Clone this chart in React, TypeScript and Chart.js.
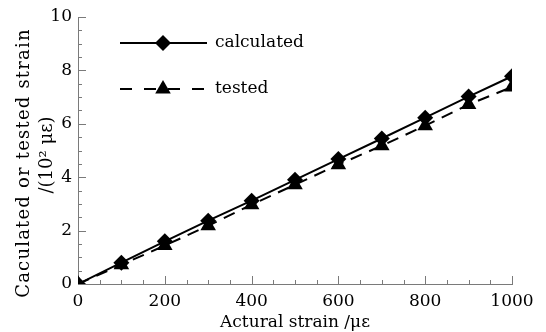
import React, { useEffect, useRef } from 'react';
import { Chart, registerables } from 'chart.js';

Chart.register(...registerables);

const strain = [0, 100, 200, 300, 400, 500, 600, 700, 800, 900, 1000];
const calculated = [0, 0.8, 1.6, 2.37, 3.12, 3.9, 4.68, 5.45, 6.23, 7.02, 7.78];
const tested = [0, 0.72, 1.44, 2.18, 2.97, 3.72, 4.47, 5.18, 5.93, 6.72, 7.38];
const legendLabels = ['calculated', 'tested'];
const xTitle = 'Actural strain /\u03bc\u03b5';
const yTitleLines = ['Caculated or tested strain', '/(10\u00b2 \u03bc\u03b5)'];

const FONT = "'DejaVu Serif', 'Liberation Serif', serif";
const FS = 17;
const AXIS = '#7a7a7a';
const INK = '#000000';

const tickPlugin = {
  id: 'inwardTicks',
  beforeDatasetsDraw(chart: any) {
    const { ctx, scales } = chart;
    const x = scales.x;
    const y = scales.y;
    ctx.save();
    ctx.strokeStyle = AXIS;
    ctx.lineWidth = 1;
    for (let v = 0; v <= 1000; v += 50) {
      const px = Math.round(x.getPixelForValue(v)) + 0.5;
      const len = v % 200 === 0 ? 8 : 4;
      ctx.beginPath();
      ctx.moveTo(px, y.bottom);
      ctx.lineTo(px, y.bottom - len);
      ctx.stroke();
    }
    for (let i = 0; i <= 20; i++) {
      const v = i * 0.5;
      const py = Math.round(y.getPixelForValue(v)) + 0.5;
      const len = i % 4 === 0 ? 8 : 4;
      ctx.beginPath();
      ctx.moveTo(x.left, py);
      ctx.lineTo(x.left + len, py);
      ctx.stroke();
    }
    ctx.restore();
  },
};

const titlePlugin = {
  id: 'yTitle',
  afterDraw(chart: any) {
    const { ctx } = chart;
    ctx.save();
    ctx.fillStyle = INK;
    ctx.font = `18px ${FONT}`;
    ctx.textAlign = 'center';
    ctx.textBaseline = 'middle';
    const pos = [
      [24, 163],
      [47, 155],
    ];
    const spacing = ['1.2px', '0px'];
    yTitleLines.forEach((t, i) => {
      ctx.save();
      (ctx as any).letterSpacing = spacing[i];
      ctx.translate(pos[i][0], pos[i][1]);
      ctx.rotate(-Math.PI / 2);
      ctx.fillText(t, 0, 0);
      ctx.restore();
    });
    ctx.restore();
  },
};

function diamond(ctx: CanvasRenderingContext2D, cx: number, cy: number, r: number) {
  ctx.beginPath();
  ctx.moveTo(cx, cy - r);
  ctx.lineTo(cx + r, cy);
  ctx.lineTo(cx, cy + r);
  ctx.lineTo(cx - r, cy);
  ctx.closePath();
  ctx.fill();
}

function triangle(ctx: CanvasRenderingContext2D, cx: number, cy: number, r: number) {
  ctx.beginPath();
  ctx.moveTo(cx, cy - r);
  ctx.lineTo(cx + r * 0.866, cy + r / 2);
  ctx.lineTo(cx - r * 0.866, cy + r / 2);
  ctx.closePath();
  ctx.fill();
}

const legendPlugin = {
  id: 'customLegend',
  afterDraw(chart: any) {
    const { ctx } = chart;
    ctx.save();
    ctx.strokeStyle = INK;
    ctx.fillStyle = INK;
    ctx.lineWidth = 2;
    const rows = [43, 89];
    rows.forEach((yy, i) => {
      ctx.setLineDash(i === 0 ? [] : [12, 12]);
      ctx.beginPath();
      ctx.moveTo(120, yy);
      ctx.lineTo(207, yy);
      ctx.stroke();
      ctx.setLineDash([]);
      if (i === 0) diamond(ctx, 163, yy, 8);
      else triangle(ctx, 163, yy, 9);
      ctx.font = `${FS}px ${FONT}`;
      ctx.textAlign = 'left';
      ctx.textBaseline = 'middle';
      ctx.fillText(legendLabels[i], 215, yy);
    });
    ctx.restore();
  },
};

export default function App() {
  const ref = useRef<HTMLCanvasElement | null>(null);

  useEffect(() => {
    if (!ref.current) return;
    const chart = new Chart(ref.current, {
      type: 'line',
      data: {
        labels: strain,
        datasets: [
          {
            label: legendLabels[0],
            data: strain.map((s, i) => ({ x: s, y: calculated[i] })),
            borderColor: INK,
            backgroundColor: INK,
            borderWidth: 2,
            pointStyle: 'rectRot',
            pointRadius: 8,
            pointBorderWidth: 0,
            tension: 0,
          },
          {
            label: legendLabels[1],
            data: strain.map((s, i) => ({ x: s, y: tested[i] })),
            borderColor: INK,
            backgroundColor: INK,
            borderWidth: 2,
            borderDash: [12, 8],
            pointStyle: 'triangle',
            pointRadius: 9,
            pointBorderWidth: 0,
            tension: 0,
          },
        ],
      },
      options: {
        responsive: false,
        animation: false,
        devicePixelRatio: 1,
        layout: { padding: { left: 0, right: 34, top: 17, bottom: 0 } },
        plugins: {
          legend: { display: false },
          tooltip: { enabled: false },
        },
        scales: {
          x: {
            type: 'linear',
            min: 0,
            max: 1000,
            grid: { display: false, drawTicks: false },
            border: { display: true, color: AXIS, width: 1 },
            ticks: {
              stepSize: 200,
              color: INK,
              padding: 7,
              font: { family: FONT, size: FS },
              maxRotation: 0,
              callback: (v: any) => String(v),
            },
            title: {
              display: true,
              text: xTitle,
              color: INK,
              font: { family: FONT, size: FS, lineHeight: 1 },
              padding: { top: 0, bottom: 1 },
            },
            afterFit(scale: any) {
              scale.height = 48;
            },
          },
          y: {
            type: 'linear',
            min: 0,
            max: 10,
            grid: { display: false, drawTicks: false },
            border: { display: true, color: AXIS, width: 1 },
            ticks: {
              stepSize: 2,
              color: INK,
              padding: 6,
              font: { family: FONT, size: FS },
              callback: (v: any) => String(v),
            },
            afterFit(scale: any) {
              scale.width = 78;
            },
          },
        },
      },
      plugins: [tickPlugin, titlePlugin, legendPlugin],
    } as any);
    return () => chart.destroy();
  }, []);

  return (
    <div style={{ position: 'absolute', left: 0, top: 0, width: 546, height: 332, background: '#fff' }}>
      <canvas ref={ref} width={546} height={332} />
    </div>
  );
}
